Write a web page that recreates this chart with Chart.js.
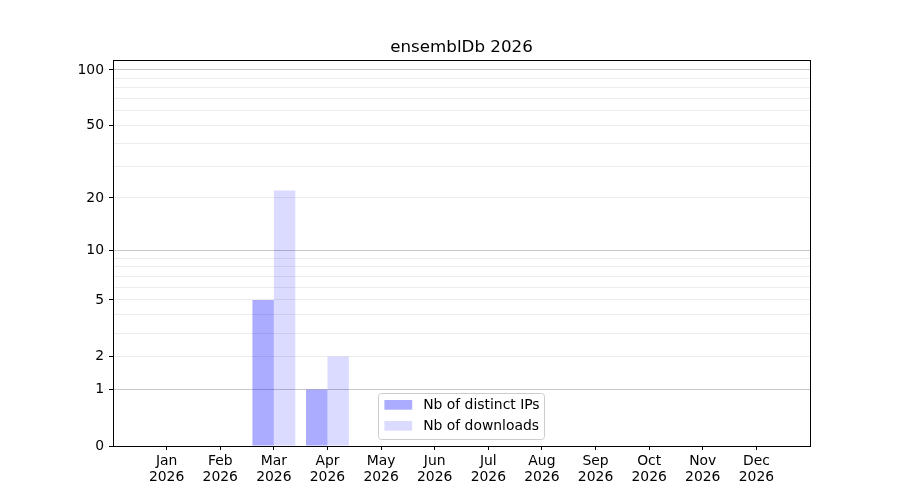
<!DOCTYPE html>
<html>
<head>
<meta charset="utf-8">
<script src="https://cdn.jsdelivr.net/npm/chart.js@4"></script>
<style>
  html, body { margin: 0; padding: 0; background: #fff; }
  #wrap { width: 900px; height: 500px; }
</style>
</head>
<body>
<div id="wrap"><canvas id="chart" width="900" height="500"></canvas></div>
<script>
// Data
const months = ['Jan', 'Feb', 'Mar', 'Apr', 'May', 'Jun', 'Jul', 'Aug', 'Sep', 'Oct', 'Nov', 'Dec'];
const year = '2026';
const distinctIps = [0, 0, 5, 1, 0, 0, 0, 0, 0, 0, 0, 0];
const downloads = [0, 0, 22, 2, 0, 0, 0, 0, 0, 0, 0, 0];
const yLabelled = [0, 1, 2, 5, 10, 20, 50, 100];
const yMajor = [1, 10, 100];
const yGrid = [0, 1, 2, 3, 4, 5, 6, 7, 8, 9, 10, 20, 30, 40, 50, 60, 70, 80, 90, 100];
const yMax = 113;

const FONT = 'DejaVu Sans';

// y axis scaled as log10(1 + v)
class Log1pScale extends Chart.LinearScale {
    static id = 'log1p';
    static defaults = Chart.LinearScale.defaults;
    buildTicks() {
        return yGrid.map(v => ({ value: v }));
    }
    logBounds() {
        return [Math.log10(1 + this.min), Math.log10(1 + this.max)];
    }
    getPixelForValue(value) {
        if (value === null || isNaN(value)) return NaN;
        const [lo, hi] = this.logBounds();
        return this.getPixelForDecimal((Math.log10(1 + value) - lo) / (hi - lo));
    }
    getValueForPixel(pixel) {
        const [lo, hi] = this.logBounds();
        return Math.pow(10, lo + this.getDecimalForPixel(pixel) * (hi - lo)) - 1;
    }
}
Chart.register(Log1pScale);

// pad with an empty slot on each side, like the reference margins
const labels = ['', ...months.map(m => [m, year]), ''];
const pad = arr => [null, ...arr, null];

// frame around the plot and a legend drawn inside it
const framePlugin = {
    id: 'frame',
    afterDraw(chart) {
        const { ctx, chartArea: a } = chart;
        ctx.save();
        ctx.strokeStyle = '#000';
        ctx.lineWidth = 1;
        ctx.strokeRect(Math.round(a.left) + 0.5, Math.round(a.top) + 0.5,
            Math.round(a.right - a.left), Math.round(a.bottom - a.top));

        // legend, lower center
        ctx.font = '13.9px "' + FONT + '"';
        const sets = chart.data.datasets;
        const textW = Math.max(...sets.map(d => ctx.measureText(d.label).width));
        const w = 6 + 27.8 + 11 + textW + 5;
        const h = 46;
        const x = (a.left + a.right) / 2 - w / 2;
        const y = a.bottom - 7 - h;
        ctx.beginPath();
        ctx.roundRect(Math.round(x) + 0.5, Math.round(y) + 0.5, Math.round(w), h, 3);
        ctx.fillStyle = 'rgba(255,255,255,0.8)';
        ctx.fill();
        ctx.strokeStyle = '#cccccc';
        ctx.stroke();
        ctx.textBaseline = 'middle';
        sets.forEach((d, i) => {
            const cy = y + 12 + i * 21;
            ctx.fillStyle = d.backgroundColor;
            ctx.fillRect(x + 6, cy - 5, 27.8, 9.7);
            ctx.fillStyle = '#000';
            ctx.fillText(d.label, x + 6 + 27.8 + 11, cy);
        });
        ctx.restore();
    }
};

new Chart(document.getElementById('chart'), {
    type: 'bar',
    data: {
        labels: labels,
        datasets: [{
            label: 'Nb of distinct IPs',
            data: pad(distinctIps),
            backgroundColor: 'rgba(0,0,255,0.33)',
            borderWidth: 0,
            inflateAmount: 0
        }, {
            label: 'Nb of downloads',
            data: pad(downloads),
            backgroundColor: 'rgba(0,0,255,0.14)',
            borderWidth: 0,
            inflateAmount: 0
        }]
    },
    options: {
        responsive: false,
        animation: false,
        devicePixelRatio: 1,
        layout: { padding: { left: 0, right: 90, top: 0, bottom: 0 } },
        datasets: { bar: { categoryPercentage: 0.8, barPercentage: 1.0 } },
        plugins: {
            legend: { display: false },
            tooltip: { enabled: false },
            title: {
                display: true,
                text: 'ensemblDb 2026',
                fullSize: false,
                color: '#000',
                font: { family: FONT, size: 16.7, weight: 'normal', lineHeight: 1.2 },
                padding: { top: 38, bottom: 2 }
            }
        },
        scales: {
            x: {
                offset: false,
                afterFit: s => { s.height = 54; },
                grid: {
                    offset: false,
                    drawOnChartArea: false,
                    drawTicks: true,
                    tickLength: 4,
                    tickColor: c => (c.index === 0 || c.index === labels.length - 1) ? 'rgba(0,0,0,0)' : '#000'
                },
                border: { display: true, color: '#000', width: 1 },
                ticks: {
                    autoSkip: false,
                    maxRotation: 0,
                    padding: 3,
                    color: '#000',
                    font: { family: FONT, size: 13.9, lineHeight: 1.15 }
                }
            },
            y: {
                type: 'log1p',
                min: 0,
                max: yMax,
                afterFit: s => { s.width = 113; },
                grid: {
                    drawTicks: true,
                    tickLength: 4,
                    lineWidth: 1,
                    color: c => {
                        const v = c.tick && c.tick.value;
                        if (v === 0) return 'rgba(0,0,0,0)';
                        return yMajor.includes(v) ? '#c8c8c8' : '#ececec';
                    },
                    tickColor: c => (c.tick && yLabelled.includes(c.tick.value)) ? '#000' : 'rgba(0,0,0,0)'
                },
                border: { display: true, color: '#000', width: 1 },
                ticks: {
                    autoSkip: false,
                    padding: 5,
                    color: '#000',
                    font: { family: FONT, size: 13.9 },
                    callback: v => yLabelled.includes(v) ? String(v) : ''
                }
            }
        }
    },
    plugins: [framePlugin]
});
</script>
</body>
</html>
